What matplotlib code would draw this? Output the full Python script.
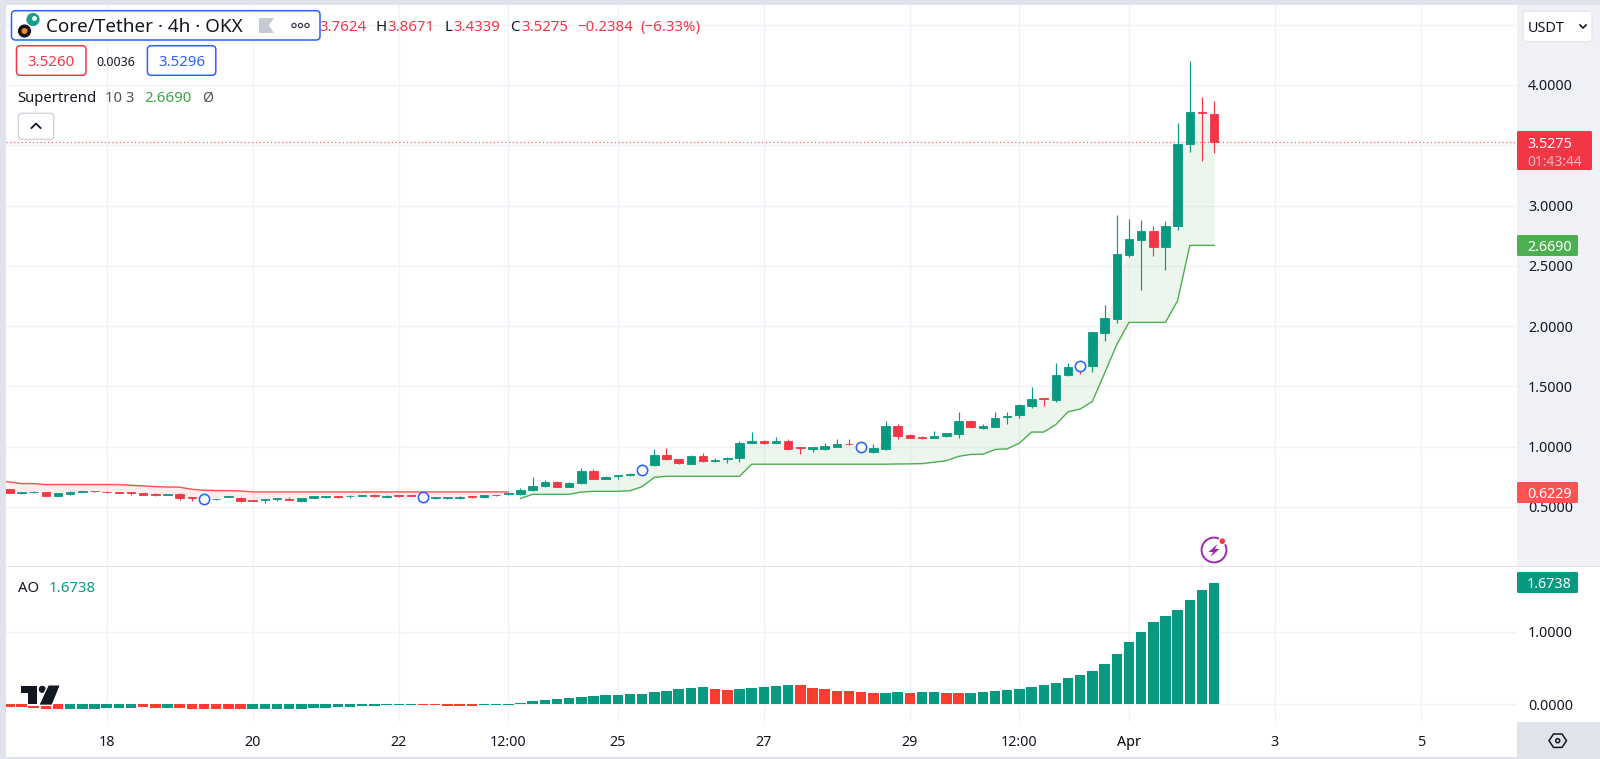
import numpy as np
import matplotlib
matplotlib.use("Agg")
import matplotlib.pyplot as plt
from matplotlib.patches import Rectangle, FancyBboxPatch, Circle, Polygon
from matplotlib.ticker import FuncFormatter
import matplotlib.patheffects as pe

plt.rcParams['font.family'] = ['Noto Sans', 'DejaVu Sans']

# ---------- data ----------
opens = [.645,.618,.620,.620,.593,.609,.626,.634,.626,.626,
         .620,.615,.609,.601,.604,.582,.570,.562,.582,.576,
         .557,.559,.562,.568,.551,.576,.579,.587,.587,.590,
         .601,.579,.598,.601,.582,.573,.573,.576,.593,.579,
         .596,.604,.603,.636,.669,.708,.667,.694,.800,.733,
         .753,.764,.790,.844,.931,.897,.858,.919,.878,.897,
         .903,1.033,1.044,1.028,1.047,.994,.983,.978,.997,1.022,
         1.005,.956,.983,1.167,1.092,1.081,1.069,1.086,1.106,1.214,
         1.156,1.164,1.247,1.258,1.336,1.399,1.388,1.593,1.675,1.665,
         1.939,2.061,2.589,2.714,2.788,2.653,2.827,3.510,3.779,3.7624]
closes = [.612,.620,.626,.593,.615,.620,.631,.629,.620,.618,
          .615,.601,.601,.606,.573,.576,.565,.568,.587,.548,
          .548,.565,.570,.557,.573,.587,.587,.579,.593,.601,
          .593,.593,.593,.593,.587,.582,.582,.584,.584,.598,
          .601,.614,.639,.675,.708,.667,.697,.794,.733,.750,
          .761,.772,.815,.931,.897,.861,.919,.878,.892,.906,
          1.031,1.042,1.033,1.047,.983,.989,.992,1.000,1.022,1.017,
          .990,.989,1.167,1.086,1.072,1.069,1.083,1.108,1.211,1.158,
          1.167,1.236,1.255,1.341,1.391,1.394,1.593,1.662,1.650,1.947,
          2.064,2.597,2.719,2.791,2.653,2.827,3.510,3.779,3.765,3.5275]
highs = [.645,.623,.629,.623,.618,.629,.634,.634,.629,.626,
         .623,.618,.612,.606,.618,.584,.574,.568,.590,.582,
         .559,.568,.573,.579,.576,.590,.593,.590,.595,.601,
         .604,.595,.601,.601,.590,.582,.582,.587,.593,.598,
         .601,.617,.656,.750,.725,.711,.703,.822,.814,.753,
         .764,.781,.858,.978,.989,.900,.931,.950,.908,.914,
         1.047,1.122,1.053,1.075,1.064,1.000,.994,1.025,1.064,1.064,
         1.020,1.022,1.211,1.183,1.100,1.086,1.125,1.111,1.283,1.217,
         1.183,1.283,1.283,1.352,1.496,1.405,1.695,1.695,1.690,1.950,
         2.171,2.921,2.888,2.880,2.833,2.874,3.685,4.199,3.900,3.8671]
lows = [.612,.607,.615,.590,.590,.601,.620,.626,.612,.612,
        .601,.595,.590,.598,.559,.546,.558,.559,.579,.540,
        .546,.529,.551,.554,.540,.573,.573,.570,.576,.587,
        .579,.576,.579,.590,.579,.565,.568,.565,.576,.576,
        .590,.596,.600,.633,.666,.661,.664,.692,.728,.728,
        .731,.753,.769,.842,.892,.856,.853,.875,.875,.864,
        .872,1.031,1.022,1.025,.981,.936,.958,.975,.994,1.014,
        .985,.950,.975,1.061,1.067,1.061,1.067,1.078,1.067,1.156,
        1.144,1.161,1.189,1.233,1.319,1.338,1.371,1.582,1.598,1.620,
        1.875,2.022,2.575,2.299,2.581,2.465,2.797,3.447,3.369,3.4339]

st_down = [.715,.706,.692,.692,.684,.684,.684,.684,.684,.684,.684,
           .678,.673,.667,.664,.662,.645,.637,.634,.634,.631,
           .6229,.6229,.6229,.6229,.6229,.6229,.6229,.6229,.6229,.6229,.6229,
           .6229,.6229,.6229,.6229,.6229,.6229,.6229,.6229,.6229,.6229,.6229]
st_up = [.569,.603,.603,.603,.603,.622,.628,.628,.628,.633,.667,.744,.753,.753,
         .753,.753,.753,.753,.753,.853,.853,.853,.853,.853,.853,.853,.853,.853,
         .853,.853,.853,.855,.856,.858,.870,.882,.918,.934,.936,.975,.981,1.028,
         1.120,1.120,1.183,1.288,1.311,1.374,1.609,1.845,2.030,2.030,2.030,2.030,
         2.210,2.669,2.669,2.669]

ao = [-.040,-.042,-.060,-.068,-.070,-.070,-.069,-.066,-.056,-.052,
      -.052,-.048,-.050,-.050,-.052,-.065,-.070,-.072,-.072,-.074,
      -.072,-.070,-.070,-.065,-.065,-.058,-.050,-.045,-.035,-.025,
      -.023,-.020,-.016,-.015,-.018,-.020,-.021,-.022,-.023,-.020,
      -.015,-.010,.018,.037,.050,.069,.087,.101,.115,.124,
      .124,.133,.138,.161,.184,.202,.221,.230,.211,.193,
      .202,.221,.234,.253,.262,.257,.225,.202,.184,.175,
      .166,.156,.157,.166,.156,.166,.166,.156,.156,.157,
      .166,.175,.193,.207,.230,.257,.290,.354,.405,.455,
      .547,.690,.855,.993,1.126,1.214,1.297,1.439,1.568,1.6738]
ao_dir = list(("rrrrr gggggg rr g rrrrrr gggggggggggggg rrrrr ggggggggggggggggggg rr "
               "ggggg rrrrrrr gg r gg rr ggggggggggggggggggggg").replace(" ", ""))

marker_bars = [16, 34, 52, 70, 88]
marker_prices = [.568, .584, .808, .992, 1.665]

price_ticks = [0.5, 1.0, 1.5, 2.0, 2.5, 3.0, 3.5, 4.0, 4.5]
hidden_price_labels = [3.5, 4.5]
ao_ticks = [0.0, 1.0]
time_pos = [8, 20, 32, 41, 50, 62, 74, 83, 92, 104, 116]
time_labels = ['18', '20', '22', '12:00', '25', '27', '29', '12:00', 'Apr', '3', '5']

# ---------- colours ----------
UP, DOWN = '#089981', '#f23645'
AO_DOWN = '#f93d2f'
ST_UP, ST_DOWN = '#4caf50', '#ff5252'
GRID = '#f0f3fa'
INK = '#131722'
BLUE = '#2962ff'
FRAME = '#e0e3eb'

W, H = 1600, 759
fig = plt.figure(figsize=(16, 7.59), dpi=100, facecolor='white')

def px_axes(x0, y0, x1, y1, **kw):
    return fig.add_axes([x0 / W, 1 - y1 / H, (x1 - x0) / W, (y1 - y0) / H], **kw)

# background frame in pixel space
bg = px_axes(0, 0, W, H, zorder=0)
bg.set_xlim(0, W); bg.set_ylim(H, 0); bg.axis('off')
bg.add_patch(Rectangle((0, 0), W, 5, color=FRAME, lw=0))
bg.add_patch(Rectangle((0, 0), 6, H, color=FRAME, lw=0))
bg.add_patch(Rectangle((0, 757), W, 2, color=FRAME, lw=0))
bg.add_patch(Rectangle((1517, 5), 83, 561, color='#eff1f6', lw=0))
bg.add_patch(Rectangle((1517, 722), 83, 35, color=FRAME, lw=0))
bg.add_patch(Rectangle((6, 566), W - 6, 1.4, color=FRAME, lw=0))

X0, SP = 9.3, 12.17
xlim = ((6 - X0) / SP, (1517 - X0) / SP)
bars = np.arange(100)
o, h, l, c = map(np.array, (opens, highs, lows, closes))

# ---------- price pane ----------
ax = px_axes(6, 5, 1517, 566, zorder=1)
ax.set_xlim(*xlim)
ax.set_ylim(4 - (566 - 85) / 120.5, 4 + (85 - 5) / 120.5)
mid = (o + c) / 2
dn_x = np.arange(-1, 42)
up_x = np.arange(42, 100)
ax.fill_between(bars[:42], mid[:42], st_down[1:], color=ST_DOWN, alpha=.11, lw=0, zorder=1)
ax.fill_between(up_x, mid[42:], st_up, color=ST_UP, alpha=.10, lw=0, zorder=1)
ax.plot(dn_x, st_down, color=ST_DOWN, lw=1.05, zorder=2)
ax.plot(up_x, st_up, color=ST_UP, lw=1.0, zorder=2)
cols = [UP if cc >= oo else DOWN for oo, cc in zip(o, c)]
ax.vlines(bars, l, h, colors=cols, lw=0.85, zorder=3)
ax.bar(bars, np.abs(c - o), bottom=np.minimum(o, c), width=0.70, color=cols,
       edgecolor=cols, lw=0.6, zorder=4)
ax.plot(marker_bars, marker_prices, ls='none', marker='o', ms=7.4, mfc='white',
        mec=BLUE, mew=1.15, zorder=5)
ax.axhline(closes[-1], color=DOWN, lw=0.85, ls=(0, (1, 2.2)), alpha=.85, zorder=2.5)

# ---------- AO pane ----------
ax2 = px_axes(6, 567, 1517, 722, zorder=1)
ax2.set_xlim(*xlim)
ax2.set_ylim(-(722 - 704) / 72.5, (704 - 567) / 72.5)
ax2.bar(bars, ao, width=0.86, color=[UP if d == 'g' else AO_DOWN for d in ao_dir],
        lw=0, zorder=3)

fmt = FuncFormatter(lambda v, _: '' if round(v, 2) in hidden_price_labels else f'{v:.4f}')
for a, ticks in ((ax, price_ticks), (ax2, ao_ticks)):
    a.set_facecolor('white')
    for s in a.spines.values():
        s.set_visible(False)
    a.set_xticks(time_pos)
    a.set_yticks(ticks)
    a.yaxis.tick_right()
    a.yaxis.set_major_formatter(fmt)
    a.grid(True, color=GRID, lw=1.0, zorder=0)
    a.set_axisbelow(True)
    a.tick_params(axis='y', length=0, pad=8, labelsize=10.3, labelcolor=INK)
    a.tick_params(axis='x', length=0)
    for t in a.get_yticklabels():
        t.set_verticalalignment('center_baseline')
ax.tick_params(axis='x', labelbottom=False)
ax2.set_xticklabels(time_labels)
ax2.tick_params(axis='x', pad=9.5, labelsize=10.3, labelcolor=INK)
for t in ax2.get_xticklabels():
    if t.get_text() == 'Apr':
        t.set_fontweight('semibold')
        t.set_color('black')

# ---------- UI overlay ----------
ui = px_axes(0, 0, W, H, zorder=5)
ui.set_xlim(0, W); ui.set_ylim(H, 0); ui.axis('off'); ui.patch.set_alpha(0)

def box(x0, y0, x1, y1, fc='white', ec='none', lw=1.0, r=3, z=3):
    ui.add_patch(FancyBboxPatch((x0 + r, y0 + r), x1 - x0 - 2 * r, y1 - y0 - 2 * r,
                                boxstyle=f'round,pad={r},rounding_size={r}',
                                fc=fc, ec=ec, lw=lw, zorder=z))

def txt(x, y, s, color=INK, size=10.7, ha='left', z=5, **kw):
    ui.text(x, y, s, color=color, fontsize=size, ha=ha, va='center_baseline', zorder=z, **kw)

# OHLC row (box drawn above so the O reading is hidden behind it)
RED = '#f23645'
for x, s, col in [(319, '3.7624', RED), (375.5, 'H', INK), (387, '3.8671', RED),
                  (444, 'L', INK), (453.5, '3.4339', RED), (510, 'C', INK),
                  (521, '3.5275', RED), (577.5, '\u22120.2384', RED),
                  (640.5, '(\u22126.33%)', RED)]:
    txt(x, 25.5, s, col, 10.8, z=2)
box(11.5, 10.7, 320, 40, fc='white', ec=BLUE, lw=1.1, r=4)
# symbol badges
ui.add_patch(Circle((33, 19.5), 6.6, fc='#1a9c8c', ec='none', zorder=4))
ui.add_patch(Circle((34.5, 18.5), 2.4, fc='white', ec='none', zorder=4))
ui.add_patch(Circle((24.5, 31), 7, fc='#141414', ec='white', lw=0.6, zorder=4.2))
ui.add_patch(Circle((24.5, 31), 3.0, fc='#f28c28', ec='none', zorder=4.3))
txt(46, 25.5, 'Core/Tether \u00b7 4h \u00b7 OKX', INK, 13.6)
# flag and menu dots
ui.add_patch(Polygon([(259, 18), (274, 18), (269, 25.5), (274, 33), (259, 33)],
                     fc='#c6c9d1', ec='none', zorder=4))
for dx in (294, 300.5, 307):
    ui.add_patch(Circle((dx, 25.5), 2.1, fc='white', ec='#3a3e4a', lw=0.9, zorder=4))

box(16.5, 45.7, 86, 75.3, ec=RED, lw=1.1, r=4)
txt(51, 60.5, '3.5260', RED, 10.8, ha='center')
txt(116, 61, '0.0036', INK, 9.0, ha='center')
box(147.4, 45.7, 215.8, 75.3, ec=BLUE, lw=1.1, r=4)
txt(181.6, 60.5, '3.5296', BLUE, 10.8, ha='center')

txt(17.5, 96, 'Supertrend', INK, 10.7)
txt(104.7, 96, '10 3', '#50535e', 10.7)
txt(144.6, 96, '2.6690', '#43a047', 10.8)
txt(202, 96, '\u00d8', '#50535e', 10.2)

box(18.4, 113.3, 53.7, 139.3, fc='white', ec='#d1d4dc', lw=1.0, r=3)
ui.plot([31.5, 36, 40.5], [128, 123.5, 128], color=INK, lw=1.3, zorder=5)

# USDT button
box(1523, 11, 1592, 41.7, fc='white', ec='#e6e8ef', lw=1.0, r=4)
txt(1527.5, 26.5, 'USDT', INK, 10.4)
ui.plot([1580, 1583, 1586], [25, 28, 25], color=INK, lw=1.2, zorder=5)

# price tags
box(1517, 131, 1592, 170, fc=DOWN, r=1.5)
txt(1527, 142, '3.5275', 'white', 10.3)
txt(1527, 160, '01:43:44', '#fbb9c0', 10.0)
box(1517, 235, 1578, 256, fc=ST_UP, r=1.5)
txt(1527, 245.7, '2.6690', 'white', 10.3)
box(1517, 482, 1578, 503, fc=ST_DOWN, r=1.5)
txt(1527, 492.5, '0.6229', 'white', 10.3)
box(1517, 572, 1578, 593, fc=UP, r=1.5)
txt(1527, 582.5, '1.6738', 'white', 10.3)

txt(17.5, 587, 'AO', INK, 10.7)
txt(49, 587, '1.6738', UP, 10.8)

# flash icon
ui.add_patch(Circle((1214, 550), 12.4, fc='white', ec='#9c27b0', lw=1.4, zorder=4))
ui.add_patch(Polygon([(1217.5, 544), (1208.5, 552), (1213, 552), (1210.5, 556.8),
                      (1219.5, 549), (1215, 549)], fc='#9c27b0', ec='none', zorder=4.5))
ui.add_patch(Circle((1222.3, 541.2), 3.5, fc='#f23645', ec='white', lw=1.0, zorder=5))

# gear hexagon
ui.add_patch(Polygon([(1549, 740.7), (1553.5, 734), (1562, 734), (1566.5, 740.7),
                      (1562, 747.4), (1553.5, 747.4)], fc='none', ec=INK, lw=1.1, zorder=5))
ui.add_patch(Circle((1557.7, 740.7), 2.0, fc='none', ec=INK, lw=1.1, zorder=5))

# TradingView logo
halo = [pe.withStroke(linewidth=2.2, foreground='white')]
LOGO = '#131722'
p = Polygon([(21, 685.7), (36.7, 685.7), (36.7, 704.4), (28.3, 704.4), (28.3, 693.4), (21, 693.4)],
            fc=LOGO, ec='none', zorder=5)
p.set_path_effects(halo + [pe.Normal()]); ui.add_patch(p)
p = Circle((42.3, 689.3), 3.4, fc=LOGO, ec='none', zorder=5)
p.set_path_effects(halo + [pe.Normal()]); ui.add_patch(p)
p = Polygon([(48.7, 685.7), (59.3, 685.7), (51.6, 704.4), (40, 704.4)], fc=LOGO, ec='none', zorder=5)
p.set_path_effects(halo + [pe.Normal()]); ui.add_patch(p)

fig.savefig('out.png', dpi=100, facecolor='white')
